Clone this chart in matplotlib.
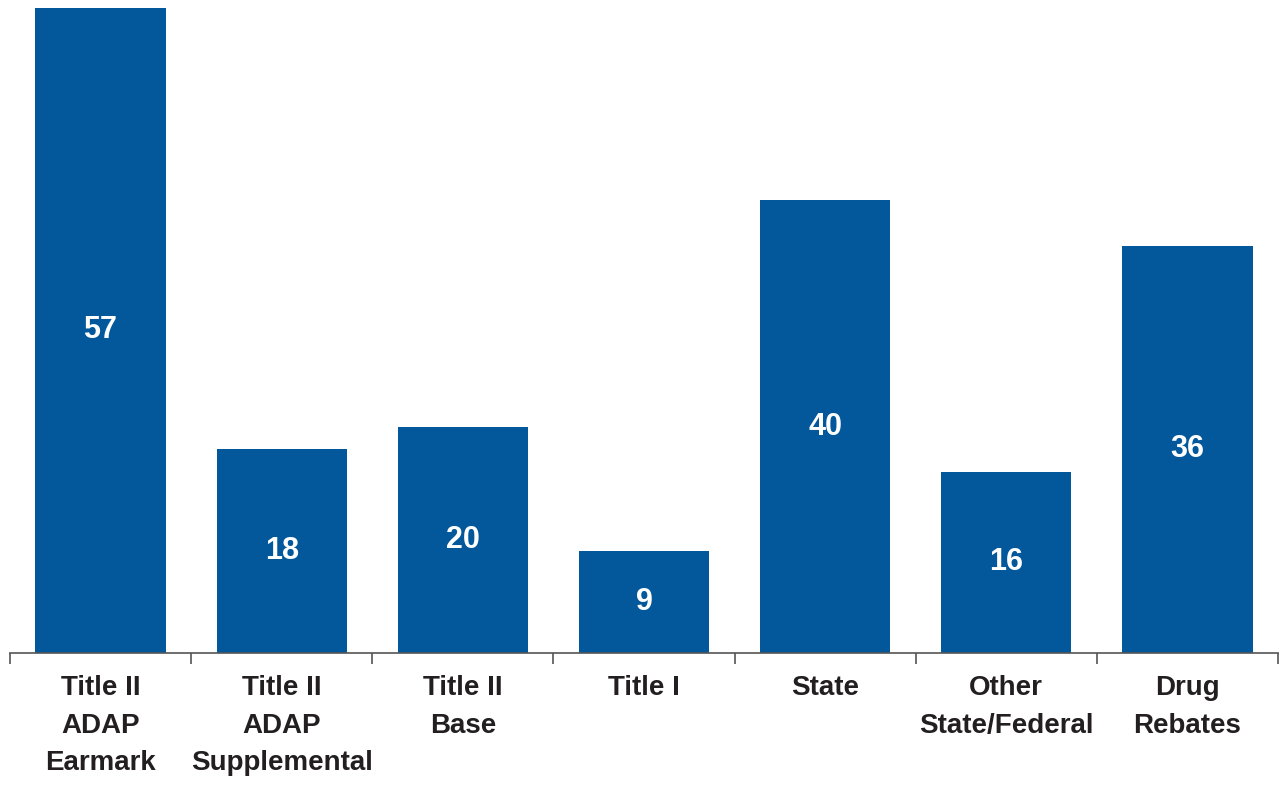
import numpy as np
import matplotlib
matplotlib.use('Agg')
from matplotlib import pyplot as plt
from matplotlib import font_manager

# Datos del gráfico
categories = ['Title II\nADAP\nEarmark', 'Title II\nADAP\nSupplemental', 'Title II\nBase',
              'Title I', 'State', 'Other\nState/Federal', 'Drug\nRebates']
values = [57, 18, 20, 9, 40, 16, 36]

# Fuente condensada si existe
names = {f.name for f in font_manager.fontManager.ttflist}
family = ['Liberation Sans Narrow', 'DejaVu Sans'] if 'Liberation Sans Narrow' in names else ['Liberation Sans', 'DejaVu Sans']
plt.rcParams['font.family'] = family

bar_color = '#02589b'
text_color = '#231f20'

fig = plt.figure(figsize=(12.85, 7.85), dpi=100)
ax = fig.add_axes([10 / 1285, (785 - 653) / 785, 1268 / 1285, 645 / 785])

x = np.arange(len(values))
ax.bar(x, values, width=0.72, color=bar_color, zorder=2)

for xi, v in zip(x, values):
    ax.text(xi, v / 2, str(v), ha='center', va='center', color='white',
            fontsize=22, fontweight='bold')

ax.set_xlim(-0.5, len(values) - 0.5)
ax.set_ylim(0, 57)

for s in ['top', 'right', 'left']:
    ax.spines[s].set_visible(False)
ax.spines['bottom'].set_color('#555555')
ax.spines['bottom'].set_linewidth(1.2)
ax.set_yticks([])

ax.set_xticks(np.arange(-0.5, len(values), 1.0))
ax.set_xticklabels([])
ax.tick_params(axis='x', which='major', length=8, width=1.2, color='#555555', direction='out')
ax.set_xticks(x, minor=True)
ax.set_xticklabels(categories, minor=True, fontsize=20, fontweight='bold',
                   color=text_color, linespacing=1.57, va='top')
ax.tick_params(axis='x', which='minor', length=0, pad=16)

fig.savefig('out.png', dpi=100)
plt.close()
